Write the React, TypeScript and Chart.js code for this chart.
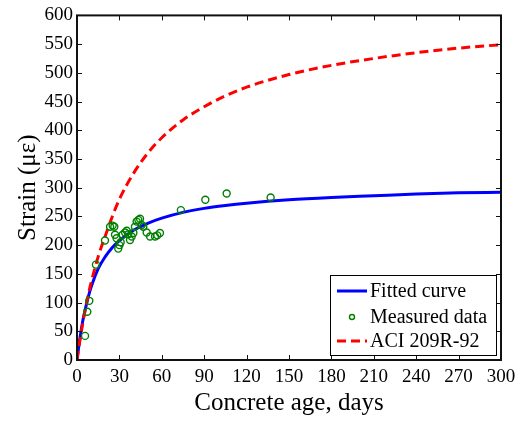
import React, { useEffect, useRef } from "react";
import { Chart, registerables } from "chart.js";

Chart.register(...registerables);

// Measured data (days, microstrain)
const measuredDays = [5.7, 7.3, 8.7, 13.4, 19.8, 23.4, 25.2, 26.4, 26.9, 28, 29.2, 30, 30.9, 32.3, 34, 35.2, 36.3, 37.5, 38.7, 39.9, 41, 42.2, 43.4, 44.6, 45.8, 46.9, 49.3, 51.7, 55.2, 56.8, 58.7, 73.5, 90.8, 105.9, 137];
const measuredStrain = [42, 84, 103, 166, 208, 232, 234, 232, 218, 212, 194, 200, 205, 218, 222, 225, 219, 209, 215, 221, 232, 241, 244, 246, 235, 232, 222, 215, 215, 217, 221, 261, 279, 290, 283];

// Curves at sample ages
const curveDays = [0, 2, 4, 6, 8, 10, 15, 20, 25, 30, 40, 50, 60, 75, 90, 105, 120, 150, 180, 210, 240, 270, 300];
const fittedStrain = [0, 37, 67, 90, 110, 127, 159, 180, 196, 208, 226, 238, 247, 257, 264, 269, 273, 279, 283, 286, 289, 291, 292];
const aciStrain = [0, 33, 63, 90, 114, 135, 180, 216, 250, 280, 325, 360, 387, 418, 441, 460, 475, 497, 513, 525, 535, 543, 549];

const xTickValues = [0, 30, 60, 90, 120, 150, 180, 210, 240, 270, 300];
const yTickValues = [0, 50, 100, 150, 200, 250, 300, 350, 400, 450, 500, 550, 600];

const seriesLabels = ["Fitted curve", "Measured data", "ACI 209R-92"];

const FONT = "'Liberation Serif', 'Times New Roman', Times, serif";

Chart.defaults.font.family = FONT;
Chart.defaults.color = "#000";

const boxPlugin = {
  id: "matlabBox",
  afterDraw(chart: any) {
    const { ctx, chartArea: a, scales } = chart;
    ctx.save();
    // inward ticks
    ctx.strokeStyle = "#111";
    ctx.lineWidth = 1;
    const tl = 5;
    ctx.beginPath();
    for (const v of xTickValues) {
      const px = Math.round(scales.x.getPixelForValue(v)) + 0.5;
      ctx.moveTo(px, a.bottom);
      ctx.lineTo(px, a.bottom - tl);
      ctx.moveTo(px, a.top);
      ctx.lineTo(px, a.top + tl);
    }
    for (const v of yTickValues) {
      const py = Math.round(scales.y.getPixelForValue(v)) + 0.5;
      ctx.moveTo(a.left, py);
      ctx.lineTo(a.left + tl, py);
      ctx.moveTo(a.right, py);
      ctx.lineTo(a.right - tl, py);
    }
    ctx.stroke();
    // box
    ctx.lineWidth = 2;
    ctx.strokeStyle = "#111";
    ctx.strokeRect(a.left, a.top, a.right - a.left, a.bottom - a.top);

    // legend
    const w = 166;
    const h = 80;
    const lx = a.right - 5 - w;
    const ly = a.bottom - 5 - h;
    ctx.fillStyle = "#fff";
    ctx.fillRect(lx, ly, w, h);
    ctx.lineWidth = 1;
    ctx.strokeStyle = "#000";
    ctx.strokeRect(lx + 0.5, ly + 0.5, w, h);
    const rows = [ly + 16, ly + 42, ly + 66];
    const ds = chart.data.datasets;
    ctx.font = `20px ${FONT}`;
    ctx.textBaseline = "middle";
    ctx.textAlign = "left";
    ds.forEach((d: any, i: number) => {
      const y = rows[i];
      const sx0 = lx + 7;
      const sx1 = lx + 37;
      if (d.showLine) {
        ctx.save();
        ctx.strokeStyle = d.borderColor;
        ctx.lineWidth = d.borderWidth;
        ctx.setLineDash(d.borderDash || []);
        ctx.beginPath();
        ctx.moveTo(sx0, y);
        ctx.lineTo(sx1, y);
        ctx.stroke();
        ctx.restore();
      } else {
        ctx.save();
        ctx.strokeStyle = d.borderColor;
        ctx.lineWidth = d.borderWidth;
        ctx.beginPath();
        ctx.arc((sx0 + sx1) / 2, y, 2.5, 0, Math.PI * 2);
        ctx.stroke();
        ctx.restore();
      }
      ctx.fillStyle = "#000";
      ctx.fillText(d.label, sx1 + 3, y + 1);
    });
    ctx.restore();
  },
};

export default function App() {
  const ref = useRef<HTMLCanvasElement | null>(null);

  useEffect(() => {
    if (!ref.current) return;
    const chart = new Chart(ref.current, {
      type: "scatter",
      data: {
        datasets: [
          {
            label: seriesLabels[0],
            data: curveDays.map((d, i) => ({ x: d, y: fittedStrain[i] })),
            showLine: true,
            borderColor: "#0000ff",
            borderWidth: 3,
            pointRadius: 0,
            cubicInterpolationMode: "monotone",
            order: 3,
          },
          {
            label: seriesLabels[1],
            data: measuredDays.map((d, i) => ({ x: d, y: measuredStrain[i] })),
            showLine: false,
            borderColor: "#008000",
            backgroundColor: "rgba(0,0,0,0)",
            borderWidth: 1.4,
            pointRadius: 3.5,
            pointStyle: "circle",
            order: 1,
          },
          {
            label: seriesLabels[2],
            data: curveDays.map((d, i) => ({ x: d, y: aciStrain[i] })),
            showLine: true,
            borderColor: "#ff0000",
            borderWidth: 3,
            borderDash: [9, 5],
            pointRadius: 0,
            cubicInterpolationMode: "monotone",
            order: 2,
          },
        ],
      } as any,
      options: {
        animation: false,
        responsive: false,
        maintainAspectRatio: false,
        font: { family: FONT },
        layout: { padding: { top: 13, right: 22, left: 0, bottom: 0 } },
        plugins: { legend: { display: false }, tooltip: { enabled: false } },
        scales: {
          x: {
            type: "linear",
            min: 0,
            max: 300,
            grid: { display: false, drawTicks: false },
            border: { display: false },
            ticks: {
              stepSize: 30,
              color: "#000",
              padding: 6,
              font: { family: FONT, size: 19, weight: "normal" },
            },
            title: {
              display: true,
              text: "Concrete age, days",
              color: "#000",
              font: { family: FONT, size: 25 },
              padding: { top: 0, bottom: 7 },
            },
            afterFit(s: any) {
              s.height = 65;
            },
          },
          y: {
            type: "linear",
            min: 0,
            max: 600,
            grid: { display: false, drawTicks: false },
            border: { display: false },
            ticks: {
              stepSize: 50,
              color: "#000",
              padding: 4,
              font: { family: FONT, size: 19, weight: "normal" },
            },
            title: {
              display: true,
              text: "Strain (με)",
              color: "#000",
              font: { family: FONT, size: 25 },
              padding: { top: 13, bottom: 0 },
            },
            afterFit(s: any) {
              s.width = 77;
            },
          },
        },
      } as any,
      plugins: [boxPlugin],
    });
    return () => chart.destroy();
  }, []);

  return (
    <div style={{ position: "fixed", left: 0, top: 0, width: 523, height: 425, background: "#fff" }}>
      <canvas ref={ref} width={523} height={425} style={{ width: 523, height: 425, display: "block" }} />
    </div>
  );
}
